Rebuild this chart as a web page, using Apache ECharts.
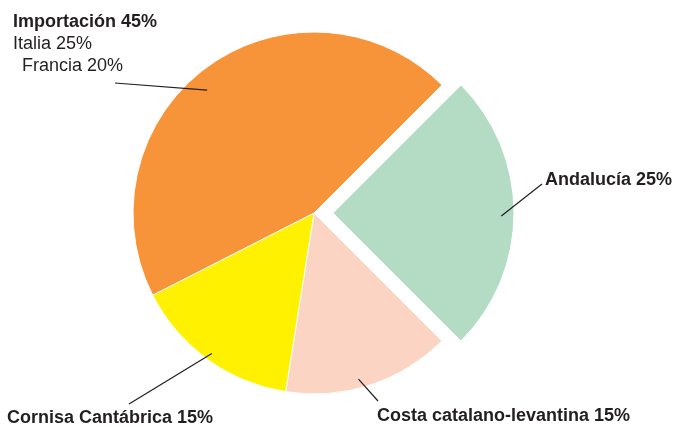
<!DOCTYPE html>
<html>
<head>
<meta charset="utf-8">
<script src="https://cdn.jsdelivr.net/npm/echarts@6/dist/echarts.min.js"></script>
<style>html,body{margin:0;padding:0;background:#fff}#c{width:674px;height:427px}</style>
</head>
<body>
<div id="c"></div>
<script>
// ---- data ----
const categories = ['Andalucía', 'Costa catalano-levantina', 'Cornisa Cantábrica', 'Importación'];
const values = [25, 15, 15, 45];
const importSubLabels = ['Italia 25%', 'Francia 20%'];
const sliceColors = ['#B4DCC4', '#FCD4C3', '#FFF100', '#F79439'];
const explodedIndex = 0;

// ---- layout ----
const CX = 314, CY = 213, R = 181, EXPLODE = 19, START_ANGLE = 45;
const labelPos = [
  { x: 545, y: 169, endX: 542, endY: 184, rFrac: 0.93, angleShift: 1 },
  { x: 377, y: 405, endX: 378, endY: 401, rFrac: 0.95, angleShift: 3 },
  { x: 7,   y: 407, endX: 129, endY: 404, rFrac: 0.96, angleShift: 0 },
  { x: 13,  y: 11,  endX: 115, endY: 83,  rFrac: 0.9,  angleShift: -5 }
];
const FONT = '"Liberation Sans", Arial, sans-serif';
const TXT = '#231F20';
const FS = 18;

const total = values.reduce((a, b) => a + b, 0);
function midAngle(i) { // degrees, clockwise from 12 o'clock
  let acc = 0;
  for (let k = 0; k < i; k++) acc += values[k];
  return 90 - START_ANGLE + (acc + values[i] / 2) / total * 360;
}
function sliceCenter(i) {
  if (i !== explodedIndex) return [CX, CY];
  const a = midAngle(i) * Math.PI / 180;
  return [CX + EXPLODE * Math.sin(a), CY - EXPLODE * Math.cos(a)];
}

const chart = echarts.init(document.getElementById('c'));
const hidden = { color: 'rgba(0,0,0,0)', borderWidth: 0 };
function makeData(visibleFn) {
  return categories.map((name, i) => {
    const vis = visibleFn(i);
    return {
      name: name,
      value: values[i],
      itemStyle: vis ? { color: sliceColors[i] } : hidden,
      label: { show: vis }
    };
  });
}

function labelLayout(params) {
  const lp = labelPos[params.dataIndex];
  return { x: lp.x, y: lp.y, align: 'left', verticalAlign: 'top' };
}

// leader lines from inside each slice (near its mid angle) to its label
const leaderLines = categories.map((name, i) => {
  const lp = labelPos[i];
  const a = (midAngle(i) + lp.angleShift) * Math.PI / 180;
  const c = sliceCenter(i);
  const r = R * lp.rFrac;
  return {
    type: 'polyline',
    z: 100,
    silent: true,
    shape: { points: [[c[0] + r * Math.sin(a), c[1] - r * Math.cos(a)], [lp.endX, lp.endY]] },
    style: { stroke: TXT, lineWidth: 1.2, fill: null }
  };
});

const baseSeries = {
  type: 'pie',
  radius: [0, R],
  startAngle: START_ANGLE,
  clockwise: true,
  silent: true,
  emphasis: { disabled: true },
  itemStyle: { borderColor: '#fff', borderWidth: 1 },
  label: {
    show: true,
    position: 'outside',
    overflow: 'none',
    fontFamily: FONT,
    color: TXT,
    formatter: function (p) {
      if (p.dataIndex === 3) {
        return '{b|' + p.name + ' ' + p.value + '%}\n{r|' + importSubLabels[0] + '}\n{r2|' + importSubLabels[1] + '}';
      }
      return '{b|' + p.name + ' ' + p.value + '%}';
    },
    rich: {
      b: { fontFamily: FONT, fontWeight: 'bold', fontSize: FS, color: TXT, lineHeight: 22 },
      r: { fontFamily: FONT, fontSize: FS, color: TXT, lineHeight: 22 },
      r2: { fontFamily: FONT, fontSize: FS, color: TXT, lineHeight: 22, padding: [0, 0, 0, 9] }
    }
  },
  labelLine: { show: false },
  labelLayout: labelLayout
};

chart.setOption({
  animation: false,
  graphic: { elements: leaderLines },
  series: [
    Object.assign({}, baseSeries, {
      center: sliceCenter(-1),
      data: makeData(i => i !== explodedIndex)
    }),
    Object.assign({}, baseSeries, {
      center: sliceCenter(explodedIndex),
      data: makeData(i => i === explodedIndex)
    })
  ]
});
</script>
</body>
</html>
